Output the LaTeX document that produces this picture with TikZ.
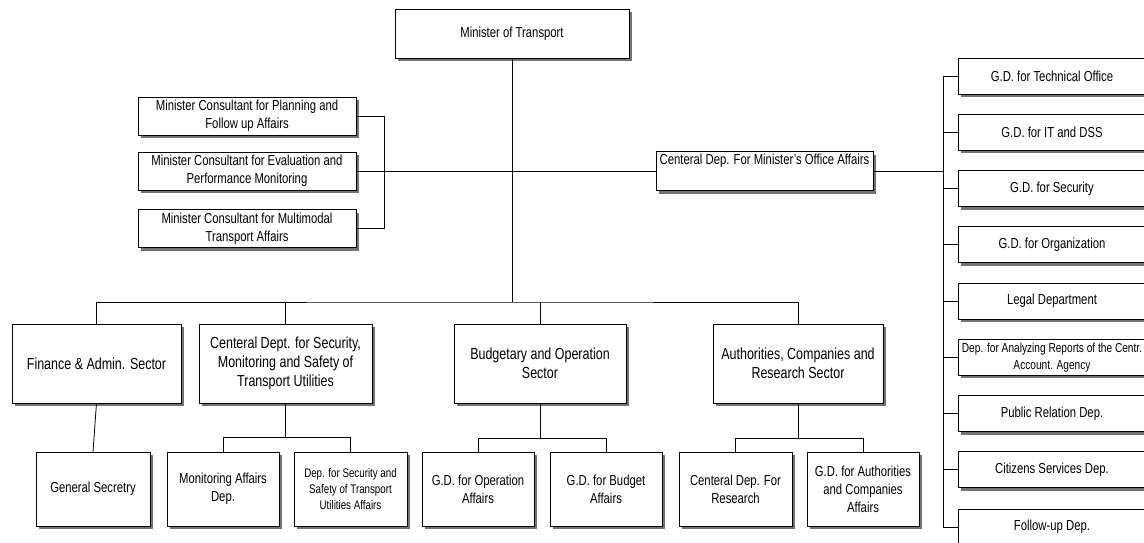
\documentclass[tikz,border=0pt]{standalone}
\usepackage{fontspec}
\setmainfont[FakeStretch=0.78]{Liberation Sans}
\usetikzlibrary{shadows}
\tikzset{
  box/.style={draw=black, line width=0.8pt, fill=white, inner sep=0pt, outer sep=0pt,
    align=center, font=\fontsize{14.5}{18}\selectfont,
    drop shadow={shadow xshift=3pt, shadow yshift=-3pt, fill=black!55, opacity=1}},
  sector/.style={box, minimum width=#1, minimum height=79pt, font=\fontsize{16}{19}\selectfont},
  unit/.style={box, minimum width=#1, minimum height=74pt},
  rbox/.style={box, minimum width=188pt, minimum height=36pt},
  cbox/.style={box, minimum width=218pt, minimum height=38pt},
  small/.style={font=\fontsize{12.5}{16}\selectfont},
  link/.style={draw=black, line width=0.8pt},
}
\begin{document}
\begin{tikzpicture}[x=1pt, y=-1pt]
\useasboundingbox (0,0) rectangle (1144,543);

% top
\node[box, minimum width=234pt, minimum height=49pt] (mot) at (512,33.5) {Minister of Transport};

% consultants
\node[cbox] (c1) at (247,116) {Minister Consultant for Planning and\\Follow up Affairs};
\node[cbox] (c2) at (247,171) {Minister Consultant for Evaluation and\\Performance Monitoring};
\node[cbox] (c3) at (247,228.5) {Minister Consultant for Multimodal\\Transport Affairs};

% minister's office
\node[box, minimum width=217pt, minimum height=39pt] (cdm) at (764.5,171) {Centeral Dep. For Minister's Office Affairs\\\strut};

% right column
\node[rbox] (r1) at (1052,76) {G.D. for Technical Office};
\node[rbox] (r2) at (1052,132.25) {G.D. for IT and DSS};
\node[rbox] (r3) at (1052,188.5) {G.D. for Security};
\node[rbox] (r4) at (1052,244.75) {G.D. for Organization};
\node[rbox] (r5) at (1052,301) {Legal Department};
\node[rbox, font=\fontsize{13}{17}\selectfont] (r6) at (1052,357.25) {Dep. for Analyzing Reports of the Centr.\\Account. Agency};
\node[rbox] (r7) at (1052,413.5) {Public Relation Dep.};
\node[rbox] (r8) at (1052,469.75) {Citizens Services Dep.};
\node[rbox] (r9) at (1052,527) {Follow-up Dep.};

% sectors
\node[sector=169pt] (fin) at (96.5,363.5) {Finance \& Admin. Sector};
\node[sector=173pt] (cds) at (285.5,363.5) {Centeral Dept. for Security,\\Monitoring and Safety of\\Transport Utilities};
\node[sector=172pt] (bud) at (540,363.5) {Budgetary and Operation\\Sector};
\node[sector=170pt] (auth) at (798,363.5) {Authorities, Companies and\\Research Sector};

% units
\node[unit=114pt] (gs) at (93,489) {General Secretry};
\node[unit=112pt] (mon) at (223,489) {Monitoring Affairs\\Dep.};
\node[unit=113pt, small] (dsec) at (350.5,489) {Dep. for Security and\\Safety of Transport\\Utilities Affairs};
\node[unit=112pt] (opa) at (478,489) {G.D. for Operation\\Affairs};
\node[unit=112pt] (bga) at (606,489) {G.D. for Budget\\Affairs};
\node[unit=113pt] (res) at (735.5,489) {Centeral Dep. For\\Research};
\node[unit=112pt] (gda) at (863,489) {G.D. for Authorities\\and Companies\\Affairs};

% connectors
\coordinate (bus) at (512,302);
\draw[link] (mot.south) -- (bus);
\draw[link] (fin.north) |- (bus) -| (auth.north);
\draw[link] (cds.north) -- (cds.north |- bus);
\draw[link] (bud.north) -- (bud.north |- bus);

\draw[link] (c2.east) -- (cdm.west);
\draw[link] (c1.east) -- ++(28,0) |- (c3.east);

\draw[link] (cdm.east) -- ++(70,0);
\draw[link] (r1.west) -- ++(-15,0) |- (r9.west);
\foreach \i in {2,...,8} {\draw[link] (r\i.west) -- ++(-15,0);}

\draw[link] (fin.south) -- (gs.north);
\draw[link] (cds.south) -- ++(0,34);
\draw[link] (mon.north) -- ++(0,-15) -| (dsec.north);
\draw[link] (bud.south) -- ++(0,35);
\draw[link] (opa.north) -- ++(0,-14) -| (bga.north);
\draw[link] (auth.south) -- ++(0,35);
\draw[link] (res.north) -- ++(0,-14) -| (gda.north);
\end{tikzpicture}
\end{document}
